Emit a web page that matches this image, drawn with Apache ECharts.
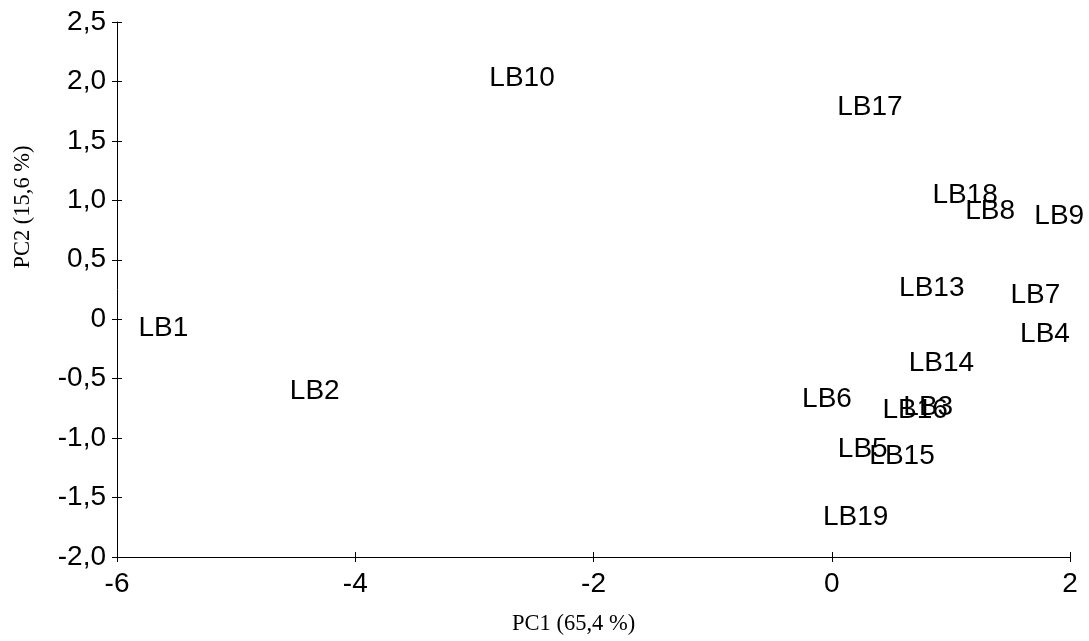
<!DOCTYPE html>
<html>
<head>
<meta charset="utf-8">
<script src="https://cdn.jsdelivr.net/npm/echarts@6/dist/echarts.min.js"></script>
<style>
  html, body { margin: 0; padding: 0; background: #fff; }
  #chart { width: 1089px; height: 641px; }
</style>
</head>
<body>
<div id="chart"></div>
<script>
// Sample labels and their scores on the first two principal components
const samples = ['LB1', 'LB2', 'LB3', 'LB4', 'LB5', 'LB6', 'LB7', 'LB8', 'LB9', 'LB10',
                 'LB13', 'LB14', 'LB15', 'LB16', 'LB17', 'LB18', 'LB19'];
const pc1 = [-5.61, -4.34, 0.81, 1.79, 0.26, -0.04, 1.71, 1.33, 1.91, -2.60,
             0.84, 0.92, 0.59, 0.70, 0.32, 1.12, 0.20];
const pc2 = [-0.08, -0.61, -0.74, -0.13, -1.09, -0.67, 0.20, 0.91, 0.87, 2.03,
             0.26, -0.37, -1.15, -0.77, 1.78, 1.04, -1.67];

const xTitle = 'PC1 (65,4 %)';
const yTitle = 'PC2 (15,6 %)';

const points = samples.map((name, i) => ({ name: name, value: [pc1[i], pc2[i]] }));

const sansFont = '"Liberation Sans", Arial, sans-serif';
const serifFont = '"Liberation Serif", "Times New Roman", serif';

const yFmt = v => (Math.abs(v) < 1e-9 ? '0' : v.toFixed(1).replace('.', ','));

const chart = echarts.init(document.getElementById('chart'), null, { renderer: 'canvas' });

const axisBase = {
  type: 'value',
  splitLine: { show: false },
  axisLine: { show: true, onZero: false, lineStyle: { color: '#000', width: 1 } },
};

chart.setOption({
  animation: false,
  backgroundColor: '#fff',
  grid: { left: 117, right: 19, top: 22, bottom: 84 },
  xAxis: [
    Object.assign({}, axisBase, {
      min: -6, max: 2, interval: 2,
      axisTick: { show: true, inside: false, length: 5, lineStyle: { color: '#000' } },
      axisLabel: { margin: 13, color: '#000', fontSize: 28, fontFamily: sansFont,
                   formatter: v => String(v) }
    }),
    // inner half of the crossing tick marks
    {
      type: 'value', min: -6, max: 2, interval: 2, position: 'bottom',
      splitLine: { show: false }, axisLine: { show: false, onZero: false },
      axisLabel: { show: false },
      axisTick: { show: true, inside: true, length: 5, lineStyle: { color: '#000' } }
    }
  ],
  yAxis: [
    Object.assign({}, axisBase, {
      min: -2, max: 2.5, interval: 0.5,
      axisTick: { show: true, inside: false, length: 5, lineStyle: { color: '#000' } },
      axisLabel: { margin: 11, color: '#000', fontSize: 28, fontFamily: sansFont,
                   formatter: yFmt }
    }),
    {
      type: 'value', min: -2, max: 2.5, interval: 0.5, position: 'left',
      splitLine: { show: false }, axisLine: { show: false, onZero: false },
      axisLabel: { show: false },
      axisTick: { show: true, inside: true, length: 5, lineStyle: { color: '#000' } }
    }
  ],
  graphic: [
    {
      type: 'text', left: 512, top: 613,
      style: { text: xTitle, font: '22.5px ' + serifFont, fill: '#000' }
    },
    {
      type: 'text', x: 23, y: 207, rotation: Math.PI / 2,
      style: { text: yTitle, font: '22.5px ' + serifFont, fill: '#000',
               align: 'center', verticalAlign: 'middle' }
    }
  ],
  series: [{
    type: 'scatter',
    data: points,
    symbolSize: 1,
    itemStyle: { color: '#fff', opacity: 0 },
    label: {
      show: true,
      position: 'inside',
      formatter: p => p.name,
      color: '#000',
      opacity: 1,
      textBorderWidth: 0,
      fontSize: 28,
      fontFamily: sansFont
    },
    emphasis: { disabled: true },
    labelLayout: { hideOverlap: false }
  }]
});
</script>
</body>
</html>
